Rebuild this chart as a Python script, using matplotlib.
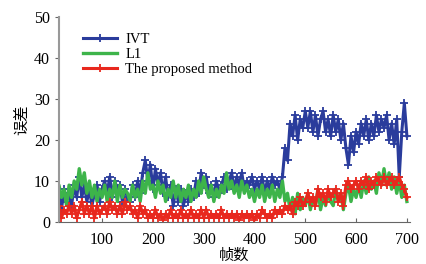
import numpy as np
import matplotlib
matplotlib.use('Agg')
import matplotlib.pyplot as plt

plt.rcParams['font.family'] = ['Liberation Serif', 'Noto Sans CJK SC']

frames = np.arange(10, 705, 5)

ivt = [4, 7, 3, 8, 5, 7, 4, 9, 6,
       11, 6, 9, 5, 8, 4, 7, 9, 5, 8,
       10, 7, 11, 6, 10, 8, 9, 5, 8, 6,
       5, 9, 6, 10, 7, 12, 15, 10, 14, 8,
       13, 9, 12, 7, 11, 6, 9, 4, 8, 5,
       8, 4, 7, 5, 8, 6, 10, 7, 12, 9,
       11, 7, 9, 6, 10, 7, 9, 11, 8, 10,
       12, 8, 11, 9, 12, 8, 10, 9, 11, 8,
       10, 8, 11, 7, 10, 8, 11, 9, 10, 8,
       11, 18, 15, 24, 21, 26, 20, 25, 23, 27,
       23, 27, 22, 26, 21, 25, 27, 22, 25, 21,
       26, 22, 25, 20, 24, 18, 14, 21, 17, 22,
       19, 24, 21, 25, 20, 24, 21, 26, 22, 25,
       23, 26, 20, 24, 19, 25, 11, 22, 29, 21]

l1 = [5, 9, 6, 8, 4, 9, 6, 10, 8,
      13, 9, 12, 7, 10, 6, 9, 5, 8, 6,
      9, 5, 8, 6, 10, 5, 9, 6, 8, 7,
      5, 9, 6, 8, 5, 10, 7, 12, 8, 9,
      6, 10, 7, 9, 5, 8, 6, 10, 6, 9,
      5, 8, 6, 9, 5, 8, 6, 10, 7, 11,
      8, 6, 9, 5, 8, 6, 9, 7, 12, 8,
      10, 7, 9, 6, 10, 7, 9, 6, 8, 5,
      8, 6, 9, 5, 8, 6, 9, 5, 8, 6,
      10, 5, 7, 3, 6, 2, 7, 3, 6, 4,
      7, 3, 6, 4, 8, 3, 6, 4, 7, 5,
      4, 8, 5, 7, 3, 7, 9, 5, 8, 6,
      9, 6, 10, 7, 11, 8, 10, 7, 12, 9,
      13, 9, 12, 8, 11, 7, 10, 6, 9, 5]

proposed = [2, 4, 1, 3, 2, 4, 2, 4, 1,
            3, 5, 2, 4, 2, 4, 1, 4, 2, 3,
            4, 2, 5, 3, 4, 2, 4, 2, 5, 3,
            4, 2, 3, 1, 4, 2, 3, 1, 2, 1,
            3, 1, 2, 0.5, 2, 1, 3, 1, 2, 1,
            3, 1, 2, 1, 3, 1, 2, 1, 3, 1,
            3, 1, 2, 1, 2, 1, 3, 1, 2, 1,
            2, 1, 2, 0.5, 2, 1, 2, 1, 2, 0.5,
            2, 1, 3, 2, 1, 2, 1, 3, 2, 3,
            2, 4, 3, 4, 2, 5, 4, 6, 4, 5,
            7, 5, 6, 4, 8, 6, 7, 5, 8, 6,
            7, 8, 5, 7, 4, 9, 10, 8, 9, 10,
            8, 10, 9, 11, 8, 10, 9, 11, 10, 9,
            11, 9, 10, 11, 9, 10, 11, 9, 8, 6]

fig = plt.figure(figsize=(4.27, 2.64), dpi=100)
ax = fig.add_axes([0.138, 0.159, 0.822, 0.777])

ax.plot(frames, ivt, '-+', color='#2a3c9c', lw=2.2, ms=6, mew=1.3, label='IVT')
ax.plot(frames, l1, '-', color='#3db44a', lw=2.4, label='L1')
ax.plot(frames, proposed, '-+', color='#e8281e', lw=2.2, ms=6, mew=1.3,
        label='The proposed method')

ax.set_xlim(15, 706)
ax.set_ylim(0, 50)
ax.set_xticks([100, 200, 300, 400, 500, 600, 700])
ax.set_yticks([0, 10, 20, 30, 40, 50])

for s in ['top', 'right']:
    ax.spines[s].set_visible(False)
ax.spines['left'].set_color('#999999')
ax.spines['bottom'].set_color('#666666')
ax.spines['left'].set_linewidth(1.5)
ax.tick_params(axis='x', direction='in', length=3, pad=7, labelsize=11.5, color='#666666')
ax.tick_params(axis='y', direction='out', length=3, labelsize=11.5, color='#666666')

ax.set_xlabel('帧数', fontsize=11, family=['Noto Sans CJK SC'], labelpad=-1)
ax.set_ylabel('误差', fontsize=11, family=['Noto Sans CJK SC'], labelpad=3)

leg = ax.legend(loc='upper left', bbox_to_anchor=(0.04, 0.97), frameon=False,
                fontsize=10.5, handlelength=2.3, handletextpad=0.6,
                labelspacing=0.1, borderpad=0.2)

fig.savefig('out.png', dpi=100)
